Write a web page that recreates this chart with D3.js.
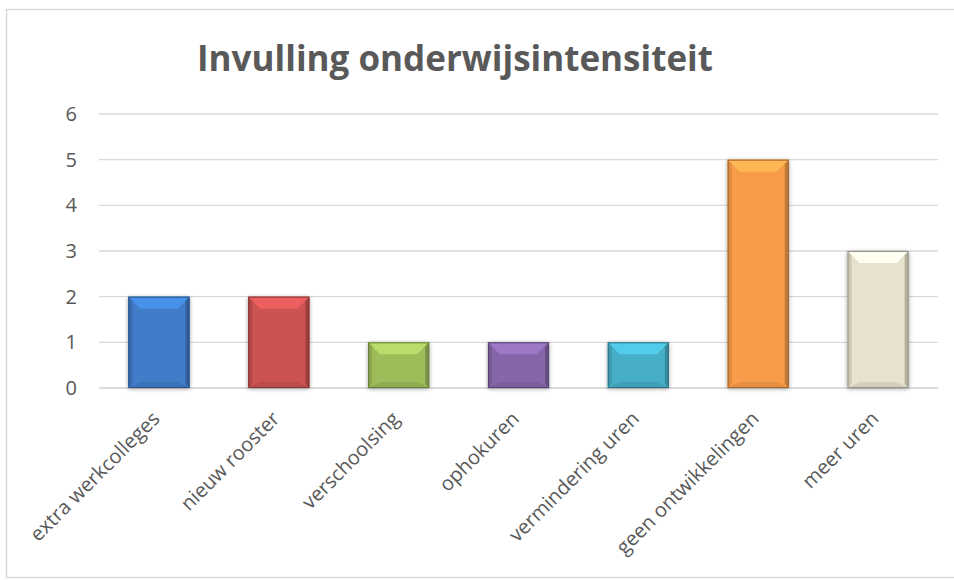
<!DOCTYPE html>
<html>
<head>
<meta charset="utf-8">
<script src="https://cdn.jsdelivr.net/npm/d3@7"></script>
<style>
  body { margin: 0; background: #fff; }
  svg { display: block; }
</style>
</head>
<body>
<div id="chart"></div>
<script>
let width = 954,
    height = 580;

// data
let categories = ["extra werkcolleges", "nieuw rooster", "verschoolsing", "ophokuren",
                  "vermindering uren", "geen ontwikkelingen", "meer uren"];
let values = [2, 2, 1, 1, 1, 5, 3];
let barColors = ["#3f7cc8", "#cb5351", "#9dbc5a", "#8566a8", "#47aec8", "#f99c48", "#e7e2cd"];
let yTicks = [0, 1, 2, 3, 4, 5, 6];
let title = "Invulling onderwijsintensiteit";

let margin = {left: 99, right: 16, top: 114, bottom: 192};

let svg = d3.select("#chart")
    .append("svg")
    .attr("width", width)
    .attr("height", height);

// outer chart frame
svg.append("rect")
    .attr("x", 6.5).attr("y", 9.5)
    .attr("width", 960).attr("height", 568)
    .attr("fill", "#fff")
    .attr("stroke", "#d9d9d9")
    .attr("stroke-width", 1.5);

let x = d3.scaleBand()
    .domain(categories)
    .range([margin.left, width - margin.right])
    .paddingInner(0.49)
    .paddingOuter(0.245);

let y = d3.scaleLinear()
    .domain([0, 6])
    .range([height - margin.bottom, margin.top]);

// gridlines
svg.append("g")
    .selectAll("line")
    .data(yTicks)
    .enter()
    .append("line")
    .attr("x1", margin.left)
    .attr("x2", width - margin.right)
    .attr("y1", d => y(d))
    .attr("y2", d => y(d))
    .attr("stroke", d => d === 0 ? "#d0d0d0" : "#d9d9d9")
    .attr("stroke-width", d => d === 0 ? 1.5 : 1.3);

// y axis labels
let yAxis = d3.axisLeft(y).tickValues(yTicks).tickFormat(d3.format("d")).tickSize(0).tickPadding(0);
let gy = svg.append("g")
    .attr("transform", "translate(77,0)")
    .call(yAxis);
gy.select(".domain").remove();
gy.selectAll("text")
    .attr("fill", "#595959")
    .style("font-family", "'Open Sans', sans-serif")
    .style("font-size", "20px");

// shadow filter
let defs = svg.append("defs");
let f = defs.append("filter").attr("id", "shadow")
    .attr("x", "-20%").attr("y", "-20%").attr("width", "140%").attr("height", "140%");
f.append("feGaussianBlur").attr("in", "SourceAlpha").attr("stdDeviation", 2);
f.append("feOffset").attr("dx", 0).attr("dy", 1).attr("result", "b");
f.append("feComponentTransfer").append("feFuncA").attr("type", "linear").attr("slope", 0.35);
let fm = f.append("feMerge");
fm.append("feMergeNode");
fm.append("feMergeNode").attr("in", "SourceGraphic");

// bevelled bars
let bev = 12;
let bars = svg.append("g")
    .selectAll("g")
    .data(categories.map((c, i) => ({cat: c, value: values[i], color: barColors[i]})))
    .enter()
    .append("g")
    .attr("filter", "url(#shadow)");

bars.each(function(d) {
    let g = d3.select(this);
    let x0 = x(d.cat), x1 = x0 + x.bandwidth();
    let y0 = y(d.value), y1 = y(0);
    let c = d3.color(d.color);
    let b = Math.min(bev, (y1 - y0) / 3);
    g.append("rect")
        .attr("x", x0).attr("y", y0)
        .attr("width", x1 - x0).attr("height", y1 - y0)
        .attr("fill", d.color);
    // top facet (light)
    g.append("polygon")
        .attr("points", [[x0, y0], [x1, y0], [x1 - b, y0 + b], [x0 + b, y0 + b]].join(" "))
        .attr("fill", c.brighter(0.45));
    // left facet
    g.append("polygon")
        .attr("points", [[x0, y0], [x0 + 4, y0 + 4], [x0 + 4, y1 - 4], [x0, y1]].join(" "))
        .attr("fill", c.darker(0.35));
    // right facet
    g.append("polygon")
        .attr("points", [[x1, y0], [x1 - 4, y0 + 4], [x1 - 4, y1 - 4], [x1, y1]].join(" "))
        .attr("fill", c.darker(0.7));
    // bottom facet
    g.append("polygon")
        .attr("points", [[x0, y1], [x1, y1], [x1 - b, y1 - b / 2], [x0 + b, y1 - b / 2]].join(" "))
        .attr("fill", c.darker(0.25));
    g.append("rect")
        .attr("x", x0 + 0.5).attr("y", y0 + 0.5)
        .attr("width", x1 - x0 - 1).attr("height", y1 - y0 - 1)
        .attr("fill", "none")
        .attr("stroke", c.darker(1.2))
        .attr("stroke-width", 1);
});

// x axis labels
let xAxis = d3.axisBottom(x).tickSize(0).tickPadding(0);
let gx = svg.append("g")
    .attr("transform", "translate(0," + (y(0) + 27) + ")")
    .call(xAxis);
gx.select(".domain").remove();
gx.selectAll("text")
    .attr("fill", "#595959")
    .style("font-family", "'Open Sans', sans-serif")
    .style("font-size", "20px")
    .attr("text-anchor", "end")
    .attr("dy", "0.35em")
    .attr("transform", "translate(-3,0) rotate(-45)");

// title
svg.append("text")
    .attr("x", 455)
    .attr("y", 71)
    .attr("text-anchor", "middle")
    .attr("fill", "#595959")
    .style("font-family", "'Open Sans', sans-serif")
    .style("font-weight", "bold")
    .style("font-size", "35px")
    .text(title);
</script>
</body>
</html>
